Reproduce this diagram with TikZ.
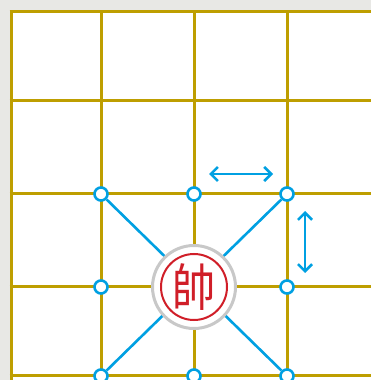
\documentclass[tikz,border=0pt]{standalone}
\usepackage{fontspec}
\newfontfamily\cjkfont{Noto Sans CJK TC}
\usepackage{tikz}
\usetikzlibrary{positioning, arrows.meta}
\definecolor{boardline}{RGB}{190,158,0}
\definecolor{moveblue}{RGB}{0,160,226}
\definecolor{shuaired}{RGB}{208,30,40}
\definecolor{ringgray}{RGB}{200,200,200}
\definecolor{paper}{RGB}{232,232,229}

\begin{document}
\begin{tikzpicture}[x=1pt, y=1pt, node distance=93pt, on grid,
    spot/.style={circle, draw=moveblue, fill=white, line width=2.6pt, minimum size=13pt, inner sep=0pt},
    piece/.style={circle, draw=ringgray, fill=white, line width=3pt, minimum size=83pt, inner sep=0pt},
    face/.style={circle, draw=shuaired, line width=2pt, minimum size=66pt, inner sep=0pt, text=shuaired},
    link/.style={moveblue, line width=2.6pt},
    slide/.style={moveblue, line width=2.6pt, {Straight Barb[length=7pt,width=14pt]}-{Straight Barb[length=7pt,width=14pt]}}]
   \useasboundingbox (0,0) rectangle (371,380);
   \fill[paper] (0,0) rectangle (371,380);
   \fill[white] (11,0) rectangle (371,368);
   \foreach \x in {11,101,194,287} \draw[boardline, line width=3pt] (\x,0) -- (\x,369.5);
   \foreach \y in {368,279,186,93,4} \draw[boardline, line width=3pt] (9.5,\y) -- (371,\y);

   \node[spot] (tl) at (101,186) {};
   \node[spot] (tm) [right=of tl] {};
   \node[spot] (tr) [right=of tm] {};
   \node[spot] (mr) [below=of tr] {};
   \node[spot] (br) [below=89pt of mr] {};
   \node[spot] (bm) [left=of br] {};
   \node[spot] (bl) [left=of bm] {};
   \node[spot] (ml) [above=89pt of bl] {};

   \path[link]
    (tl) edge (br)
    (tr) edge (bl);

   \node[piece] (shuai) [right=of ml] {};
   \node[face] (shuaiface) at (shuai) {\scalebox{0.85}[1]{\fontsize{51pt}{51pt}\selectfont\cjkfont 帥}};

   \coordinate[above right=20pt and 15pt of tm] (hl);
   \coordinate[above left=20pt and 14pt of tr] (hr);
   \coordinate[below right=17pt and 18pt of tr] (vt);
   \coordinate[above right=14pt and 18pt of mr] (vb);
   \draw[slide] (hl) -- (hr);
   \draw[slide] (vt) -- (vb);
\end{tikzpicture}
\end{document}
